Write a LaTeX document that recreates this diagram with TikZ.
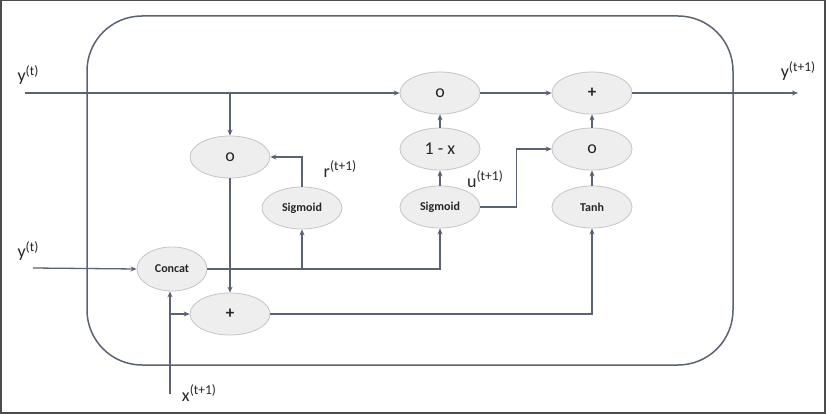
\documentclass[tikz,border=0pt]{standalone}
\usepackage{fontspec}
\setmainfont{Carlito}
\usetikzlibrary{shapes.geometric,arrows.meta}
\definecolor{linec}{HTML}{5B6273}
\definecolor{efill}{HTML}{EEEEEE}
\definecolor{edraw}{HTML}{C4C4C4}
\definecolor{textc}{HTML}{262626}
\newcommand{\suplbl}[2]{\fontsize{18}{18}\selectfont #1\raisebox{6.5pt}{\fontsize{13.5}{13.5}\selectfont #2}}
\begin{document}
\begin{tikzpicture}[x=1pt,y=-1pt,
  gate/.style={ellipse,draw=edraw,fill=efill,line width=0.8pt,minimum width=80pt,minimum height=42pt,inner sep=0pt,text=textc},
  smalltxt/.style={font=\bfseries\fontsize{12}{12}\selectfont},
  ringtxt/.style={font=\fontsize{18}{18}\selectfont},
  plustxt/.style={font=\bfseries\fontsize{17}{17}\selectfont},
  arr/.style={draw=linec,line width=1.3pt,-{Stealth[length=6pt,width=5pt]}},
  lbl/.style={inner sep=0pt,text=textc}]
\useasboundingbox (0,0) rectangle (826,414);
\draw[line width=1.5pt, color=black!70] (0.75,0.75) rectangle (825,413);
\draw[draw=linec, line width=1.5pt, rounded corners=55pt] (87,16) rectangle (733,365);

\node[gate,ringtxt] (mr) at (230,157) {o};
\node[gate,plustxt] (pl) at (230,314) {+};
\node[gate,smalltxt,minimum width=70pt,minimum height=44pt] (cc) at (172,269) {Concat};
\node[gate,smalltxt] (sl) at (302,208) {Sigmoid};
\node[gate,ringtxt] (mt) at (440,93) {o};
\node[gate,font=\fontsize{18}{18}\selectfont] (omx) at (440,149) {1 - x};
\node[gate,smalltxt] (sr) at (440,207) {Sigmoid};
\node[gate,plustxt] (pt) at (592,93) {+};
\node[gate,ringtxt] (mrr) at (592,149) {o};
\node[gate,smalltxt] (th) at (592,207) {Tanh};

\coordinate (yin) at (25,93);
\coordinate (yout) at (798,93);
\coordinate (y2in) at (33,268);
\coordinate (xin) at (170,394);

\draw[arr] (yin) -- (mt.west);
\draw[arr] (mr.north |- yin) -- (mr.north);
\draw[arr] (mt.east) -- (pt.west);
\draw[arr] (pt.east) -- (yout);
\draw[arr] (omx) -- (mt);
\draw[arr] (sr) -- (omx);
\draw[arr] (sr.east) -- ++(36,0) |- (mrr.west);
\draw[arr] (th) -- (mrr);
\draw[arr] (mrr) -- (pt);
\draw[arr] (sl.north) |- (mr.east);
\draw[arr] (mr) -- (pl);
\draw[arr] (cc.east) -| (sr.south);
\draw[arr] (sl.south |- cc.east) -- (sl.south);
\draw[arr] (pl.east) -| (th.south);
\draw[arr] (y2in) -- (cc.west);
\draw[arr] (xin) -- (xin |- cc.south);
\draw[arr] (xin |- pl.west) -- (pl.west);

\node[lbl] at (28,75) {\suplbl{y}{(t)}};
\node[lbl] at (28,251) {\suplbl{y}{(t)}};
\node[lbl] at (798,71) {\suplbl{y}{(t+1)}};
\node[lbl] at (199,393) {\suplbl{x}{(t+1)}};
\node[lbl] at (340,169) {\suplbl{r}{(t+1)}};
\node[lbl] at (485,179) {\suplbl{u}{(t+1)}};
\end{tikzpicture}
\end{document}
